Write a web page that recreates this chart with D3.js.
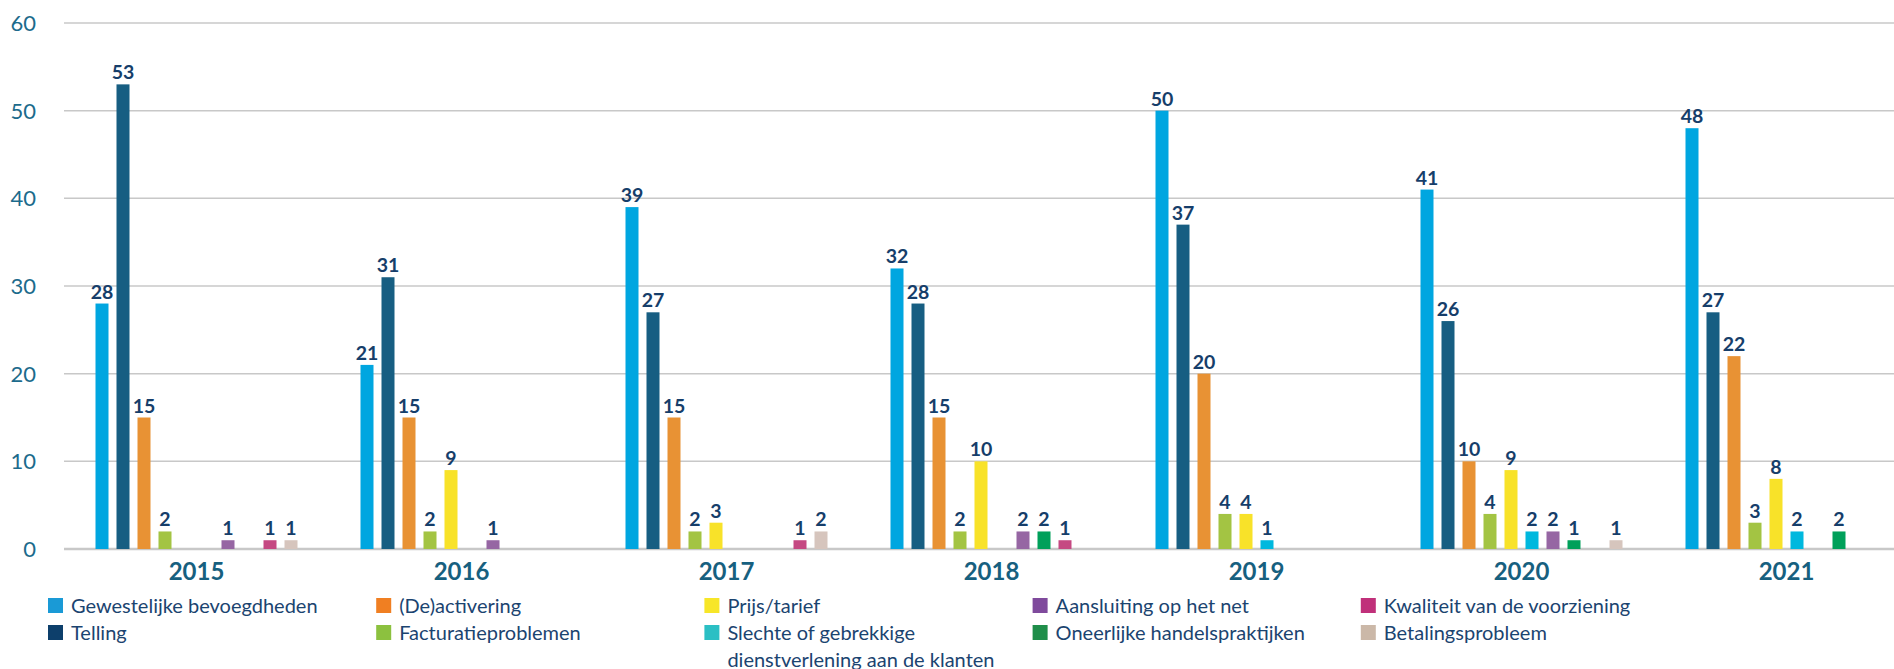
<!DOCTYPE html>
<html>
<head>
<meta charset="utf-8">
<script src="https://cdn.jsdelivr.net/npm/d3@7"></script>
<style>
	body { margin: 0; background: #fff; }
	text { font-family: Lato, "Open Sans", sans-serif; }
	.grid line { stroke: #c8c8c8; stroke-width: 1.5; }
	.ytick { fill: #1c6b8c; font-size: 22px; }
	.year { fill: #17607f; font-size: 24px; font-weight: bold; }
	.val { fill: #163e6a; font-size: 19.5px; font-weight: bold; }
	.leg { fill: #1b4470; font-size: 20px; }
</style>
</head>
<body>
<script>
//categories and series
var years = ["2015", "2016", "2017", "2018", "2019", "2020", "2021"];
var series = ["Gewestelijke bevoegdheden", "Telling", "(De)activering", "Facturatieproblemen",
	"Prijs/tarief", "Slechte of gebrekkige dienstverlening aan de klanten", "Aansluiting op het net",
	"Oneerlijke handelspraktijken", "Kwaliteit van de voorziening", "Betalingsprobleem"];

//values per series, one per year
var gewestelijke = [28, 21, 39, 32, 50, 41, 48];
var telling      = [53, 31, 27, 28, 37, 26, 27];
var deactivering = [15, 15, 15, 15, 20, 10, 22];
var facturatie   = [2, 2, 2, 2, 4, 4, 3];
var prijs        = [0, 9, 3, 10, 4, 9, 8];
var slechte      = [0, 0, 0, 0, 1, 2, 2];
var aansluiting  = [1, 1, 0, 2, 0, 2, 0];
var oneerlijk    = [0, 0, 0, 2, 0, 1, 2];
var kwaliteit    = [1, 0, 1, 1, 0, 0, 0];
var betaling     = [1, 0, 2, 0, 0, 1, 0];

var yTicks = [0, 10, 20, 30, 40, 50, 60];

//colours
var barColors = ["#00a6e0", "#175e82", "#e89234", "#a3c443", "#f8e229",
	"#00b8de", "#9666a3", "#00a05a", "#c54982", "#d6c5bd"];
var legendColors = ["#1a9ad6", "#0d3f6b", "#f07f22", "#8cc13f", "#f7e628",
	"#2bbfc4", "#7f4a9c", "#1f8e4a", "#c0307a", "#cbb8a8"];

var values = [gewestelijke, telling, deactivering, facturatie, prijs,
	slechte, aansluiting, oneerlijk, kwaliteit, betaling];

var width = 1894, height = 669;

var svg = d3.select("body").append("svg")
	.attr("width", width)
	.attr("height", height);

//scales
var y = d3.scaleLinear().domain([0, 60]).range([549, 23]);
var x0 = d3.scaleBand().domain(years).range([64, 64 + 7 * 265]);
var x1 = d3.scaleBand().domain(d3.range(series.length))
	.range([31.5, 233.5]).paddingInner(8 / 21);

//gridlines
svg.append("g").attr("class", "grid")
	.selectAll("line")
	.data(yTicks)
	.enter().append("line")
	.attr("x1", 64).attr("x2", width)
	.attr("y1", function(d){ return y(d); })
	.attr("y2", function(d){ return y(d); })
	.style("stroke-width", function(d){ return d === 0 ? 2.5 : 1.5; });

//y labels
svg.selectAll(".ytick")
	.data(yTicks)
	.enter().append("text")
	.attr("class", "ytick")
	.attr("x", 36)
	.attr("y", function(d){ return y(d); })
	.attr("dy", "0.36em")
	.attr("text-anchor", "end")
	.text(function(d){ return d; });

//bars per year
var groups = svg.selectAll(".year-g")
	.data(years)
	.enter().append("g")
	.attr("transform", function(d){ return "translate(" + x0(d) + ",0)"; });

groups.each(function(yr, yi){
	var g = d3.select(this);
	var cells = values.map(function(v, si){ return { s: si, v: v[yi] }; })
		.filter(function(d){ return d.v > 0; });

	g.selectAll("rect")
		.data(cells)
		.enter().append("rect")
		.attr("x", function(d){ return x1(d.s); })
		.attr("width", x1.bandwidth())
		.attr("y", function(d){ return y(d.v); })
		.attr("height", function(d){ return y(0) - y(d.v); })
		.attr("fill", function(d){ return barColors[d.s]; });

	g.selectAll(".val")
		.data(cells)
		.enter().append("text")
		.attr("class", "val")
		.attr("x", function(d){ return x1(d.s) + x1.bandwidth() / 2; })
		.attr("y", function(d){ return y(d.v) - 5; })
		.attr("text-anchor", "middle")
		.text(function(d){ return d.v; });
});

//year labels
svg.selectAll(".year")
	.data(years)
	.enter().append("text")
	.attr("class", "year")
	.attr("x", function(d){ return x0(d) + x0.bandwidth() / 2; })
	.attr("y", 580)
	.attr("text-anchor", "middle")
	.text(function(d){ return d; });

//legend, 5 columns by 2 rows
var legend = svg.selectAll(".legend")
	.data(series)
	.enter().append("g")
	.attr("transform", function(d, i){
		return "translate(" + (48 + Math.floor(i / 2) * 328.2) + "," + (598 + (i % 2) * 27) + ")";
	});

legend.append("rect")
	.attr("width", 15).attr("height", 15)
	.attr("fill", function(d, i){ return legendColors[i]; });

legend.append("text")
	.attr("class", "leg")
	.attr("x", 23)
	.attr("y", 14.5)
	.each(function(d){
		var t = d3.select(this);
		var lines = d.indexOf("Slechte") === 0 ?
			["Slechte of gebrekkige", "dienstverlening aan de klanten"] : [d];
		lines.forEach(function(l, li){
			t.append("tspan").attr("x", 23).attr("dy", li ? 27 : 0).text(l);
		});
	});
</script>
</body>
</html>
